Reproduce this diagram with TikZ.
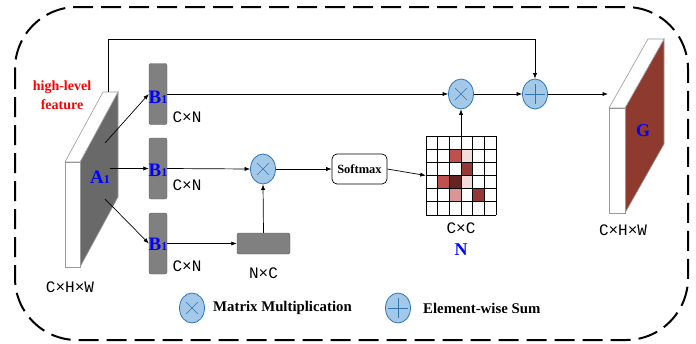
\documentclass[tikz,border=0pt]{standalone}
\usepackage{fontspec}
\setmainfont{Liberation Serif}
\newfontfamily\dimfont{Liberation Mono}
\usetikzlibrary{arrows.meta,shapes.geometric}

\definecolor{opfill}{HTML}{A4C8E8}
\definecolor{opline}{HTML}{2E75B6}
\definecolor{barfill}{HTML}{808080}
\definecolor{barline}{HTML}{5E5E5E}
\definecolor{slabside}{HTML}{696969}
\definecolor{slabedge}{HTML}{9A9A9A}
\definecolor{gside}{HTML}{8E3A2F}
\definecolor{labblue}{HTML}{0000FF}
\definecolor{cmid}{HTML}{C0504D}
\definecolor{cpale}{HTML}{F2DCDB}
\definecolor{cdark}{HTML}{953735}
\definecolor{cdeep}{HTML}{632523}
\definecolor{cpink}{HTML}{D99694}

\begin{document}
\begin{tikzpicture}[x=1pt,y=-1pt,
  arr/.style={-{Latex[length=5.5pt,width=4.2pt]}, line width=0.7pt},
  bar/.style={draw=barline, fill=barfill, rounded corners=2pt,
    minimum width=18pt, minimum height=61pt, inner sep=0pt},
  op/.style={ellipse, draw=opline, fill=opfill, line width=0.8pt,
    minimum width=25pt, minimum height=30pt, inner sep=0pt},
  mul/.style={op, path picture={
    \draw[line width=0.6pt]
      ([shift={(-6pt,-6pt)}]path picture bounding box.center) -- ++(12pt,12pt)
      ([shift={(-6pt,6pt)}]path picture bounding box.center) -- ++(12pt,-12pt);}},
  sum/.style={op, path picture={
    \draw[line width=0.6pt]
      ([shift={(-10pt,0pt)}]path picture bounding box.center) -- ++(20pt,0pt)
      ([shift={(0pt,-10pt)}]path picture bounding box.center) -- ++(0pt,20pt);}},
  dimtxt/.style={font=\dimfont\fontsize{16}{16}\selectfont, inner sep=0pt},
  lab/.style={text=labblue, font=\bfseries\fontsize{19}{19}\selectfont, inner sep=0pt},
  legtxt/.style={font=\bfseries\fontsize{14.8}{15}\selectfont, anchor=west, inner sep=0pt}
]
\useasboundingbox (0,0) rectangle (696,343);

% outer dashed frame
\draw[line width=2pt, dash pattern=on 20pt off 8pt, rounded corners=62pt]
  (15,7) rectangle (688,340);

% input feature slab A1
\fill[slabside, draw=slabedge, line width=0.6pt] (80,162) -- (118,92) -- (118,197) -- (80,267) -- cycle;
\filldraw[fill=white, draw=slabedge, line width=0.6pt] (65,162) -- (80,162) -- (118,92) -- (103,92) -- cycle;
\filldraw[fill=white, draw=slabedge, line width=0.6pt] (65,162) rectangle (80,267);
\node[lab] (alab) at (100,177) {A{\fontsize{12}{12}\selectfont 1}};
\node[text=red, font=\bfseries\fontsize{14}{19}\selectfont, align=center] (hl) at (62,95) {high-level\\feature};
\node[dimtxt] (adim) at (70,287) {C×H×W};
\coordinate (atop) at (108,92);
\coordinate (a1) at (105,143);
\coordinate (a2) at (110,168.5);
\coordinate (a3) at (105,199);

% three B1 branches
\node[bar] (b1) at (158,94) {};
\node[bar] (b2) at (158,168.5) {};
\node[bar] (b3) at (158,243.5) {};
\foreach \b/\dy in {b1/-3, b2/-1.5, b3/-0.5}
  \node[lab] at ([yshift=\dy pt]\b.center) {B{\fontsize{12}{12}\selectfont 1}};
\node[dimtxt] (d1) at (187,117) {C×N};
\node[dimtxt] (d2) at (187,185) {C×N};
\node[dimtxt] (d3) at (187,266) {C×N};

\draw[arr] (a1) -- (b1.west);
\draw[arr] (a2) -- (b2.west);
\draw[arr] (a3) -- (b3.west);

% transposed branch and first product
\node[draw=barline, fill=barfill, rounded corners=1.5pt, minimum width=53pt,
  minimum height=21pt, inner sep=0pt] (nc) at (263.5,243.5) {};
\node[dimtxt] (ncdim) at (263.5,273) {N×C};
\node[mul] (m2) at (263,169) {};
\node[draw, line width=0.7pt, rounded corners=5pt, minimum width=55pt,
  minimum height=30pt, inner sep=0pt, font=\bfseries\fontsize{12.5}{13}\selectfont]
  (soft) at (359.5,169) {Softmax};

\draw[arr] (b3.east) -- (nc.west);
\draw[arr] (nc.north) -- (m2.south);
\draw[arr] (b2.east) -- (m2.west);
\draw[arr] (m2.east) -- (soft.west);

% attention map N (6 x 6)
\node[minimum width=70pt, minimum height=79pt, inner sep=0pt] (grid) at (461,175.5) {};
\foreach \c/\r/\col in {2/1/cmid, 3/1/cpale, 3/2/cdark, 1/3/cmid, 2/3/cdeep,
    3/3/cpale, 2/4/cpink, 4/4/cdark}
  \fill[\col] ({426+\c*70/6},{136+\r*79/6}) rectangle ++(70/6,79/6);
\foreach \i in {0,...,6} {
  \draw[line width=0.8pt] ({426+\i*70/6},136) -- ({426+\i*70/6},215);
  \draw[line width=0.8pt] (426,{136+\i*79/6}) -- (496,{136+\i*79/6});
}
\node[dimtxt] (ccdim) at (461,228) {C×C};
\node[lab, font=\bfseries\fontsize{18}{18}\selectfont] (nlab) at (461,250) {N};
\draw[arr] (soft.east) -- (grid.west);

% second product and residual sum
\node[mul] (m1) at (461,94) {};
\node[sum] (plus) at (535,94) {};
\draw[arr] (b1.east) -- (m1.west);
\draw[arr] (grid.north) -- (m1.south);
\draw[arr] (m1.east) -- (plus.west);
\coordinate (skip) at (108,39);
\draw[arr] (atop) -- (skip) -| (plus.north);

% output slab G
\fill[gside, draw=slabedge, line width=0.6pt] (625,108) -- (664,39) -- (664,144) -- (625,213) -- cycle;
\filldraw[fill=white, draw=slabedge, line width=0.6pt] (609,108) -- (625,108) -- (664,39) -- (648,39) -- cycle;
\filldraw[fill=white, draw=slabedge, line width=0.6pt] (609,108) rectangle (625,213);
\node[lab, font=\bfseries\fontsize{18}{18}\selectfont] (glab) at (643,131) {G};
\node[dimtxt] (gdim) at (623,230) {C×H×W};
\coordinate (gin) at (608,94);
\draw[arr] (plus.east) -- (gin);

% legend
\node[mul] (legm) at (192,308) {};
\node[legtxt] (legmt) at (213,308) {Matrix Multiplication};
\node[sum] (legs) at (398,308) {};
\node[legtxt] (legst) at (423,308) {Element-wise Sum};
\end{tikzpicture}
\end{document}
